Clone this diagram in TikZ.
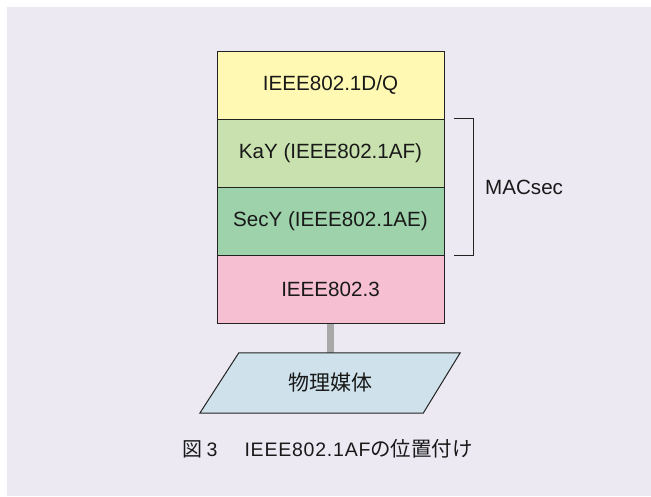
\documentclass[tikz,border=0pt]{standalone}
\usepackage{fontspec}
\setmainfont{Liberation Sans}
\newfontfamily\cjk{Noto Sans CJK JP}
\newfontfamily\caplat[LetterSpace=4]{Liberation Sans}
\usetikzlibrary{calc}
\definecolor{bgcol}{HTML}{ECE9F3}
\definecolor{yel}{HTML}{FFF9B3}
\definecolor{lgreen}{HTML}{C9E1AE}
\definecolor{dgreen}{HTML}{9DD2AA}
\definecolor{pinkc}{HTML}{F7C0D2}
\definecolor{bluec}{HTML}{CFE2EC}
\definecolor{linec}{HTML}{222222}
\definecolor{connc}{HTML}{A8A8A8}
\tikzset{
  layer/.style={draw=linec, line width=1pt, minimum width=227pt, minimum height=68pt,
    inner sep=0pt, font=\fontsize{20.6}{24}\selectfont, text=black!90},
  outline/.style={draw=linec, line width=1pt},
}
\begin{document}
\begin{tikzpicture}[x=1pt,y=-1pt]
\useasboundingbox (0,0) rectangle (651,496);
\fill[white] (0,0) rectangle (651,496);
\fill[bgcol] (7,7) rectangle (651,496);
% connector (under)
\node[minimum width=221pt, minimum height=60pt, inner sep=0pt] (media) at (330.5,383) {};
\node[layer, fill=yel] (dq) at (330.5,85) {IEEE802.1D/Q};
\node[layer, fill=lgreen] (kay) at (330.5,153) {KaY (IEEE802.1AF)};
\node[layer, fill=dgreen] (secy) at (330.5,221) {SecY (IEEE802.1AE)};
\node[layer, fill=pinkc] (phy) at (330.5,289) {IEEE802.3};
\draw[connc, line width=7pt] (phy.south) -- (media.north);
\filldraw[outline, fill=bluec] ($(media.north west)+(19,0)$) -- ($(media.north east)+(19,0)$)
  -- ($(media.south east)+(-18,0)$) -- ($(media.south west)+(-20,0)$) -- cycle;
\node[font=\cjk\fontsize{21}{24}\selectfont, text=black!90] (medialabel) at (media.center) {物理媒体};
% bracket
\coordinate (bt) at ($(kay.north east)+(9,0)$);
\coordinate (bb) at ($(secy.south east)+(9,0)$);
\draw[outline] (bt) -- ++(20,0) |- (bb);
\node[anchor=west, font=\fontsize{20.6}{24}\selectfont, text=black!90, inner sep=0pt] (macsec) at (485,187) {MACsec};
% caption
\node[anchor=base west, inner sep=0pt, text=black!90, font=\fontsize{19.5}{22}\selectfont] (caption) at (182,456)
  {{\cjk\fontsize{20}{22}\selectfont 図}\hspace{4.5pt}3\hspace{27pt}{\caplat IEEE802.1AF}{\cjk\fontsize{20.5}{22}\selectfont の位置付け}};
\end{tikzpicture}
\end{document}
